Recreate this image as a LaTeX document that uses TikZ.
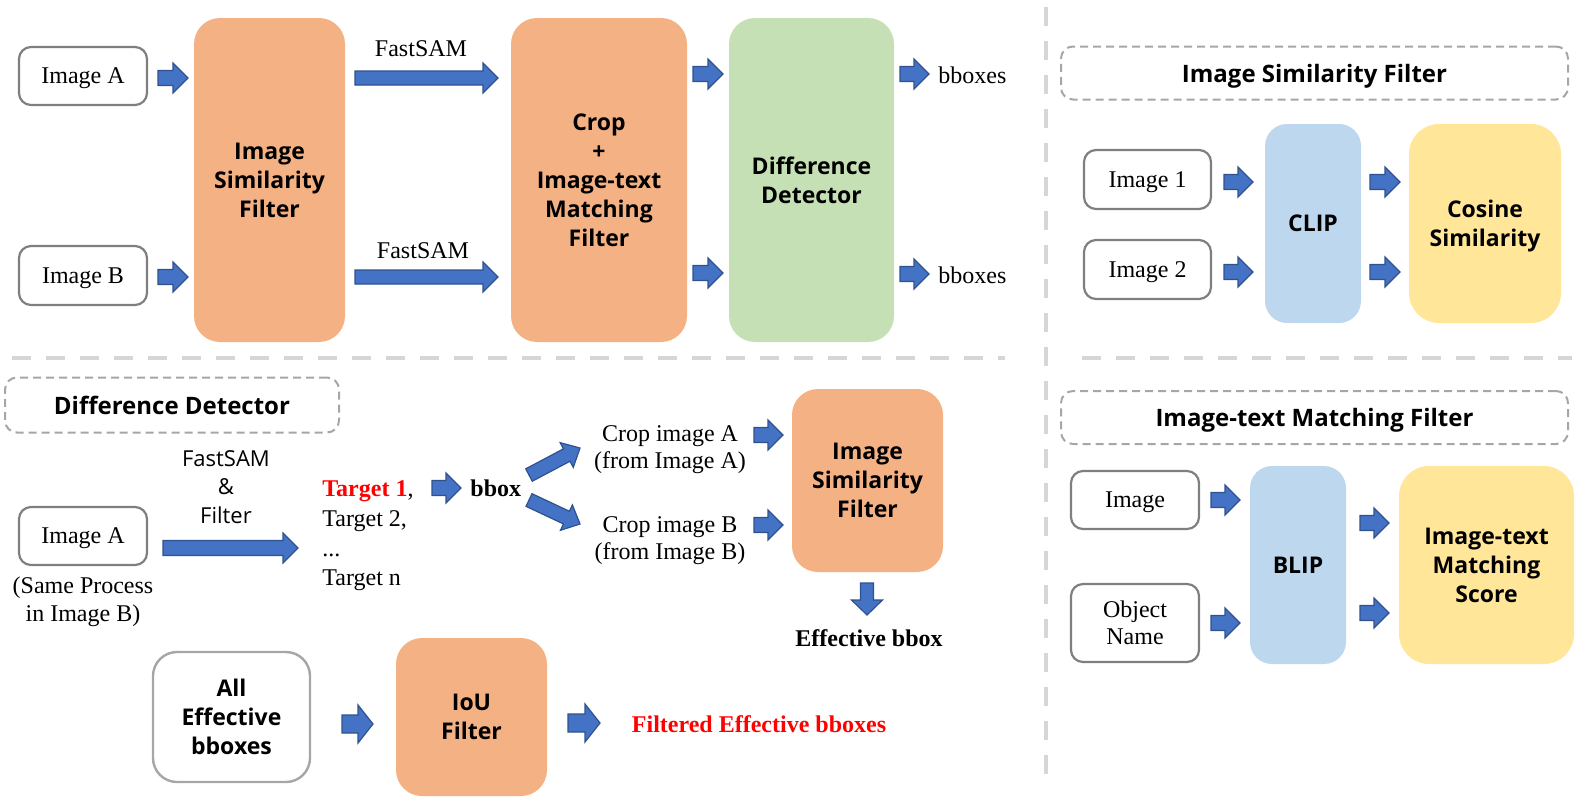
\documentclass[tikz,border=0pt]{standalone}
\usepackage{fontspec}
\setmainfont{Liberation Serif}
\newfontfamily\sansf{Open Sans}
\usetikzlibrary{calc}
\definecolor{orangeF}{HTML}{F4B183}
\definecolor{greenF}{HTML}{C5E0B4}
\definecolor{blueF}{HTML}{BDD7EE}
\definecolor{yellowF}{HTML}{FFE699}
\definecolor{arrowF}{HTML}{4472C4}
\definecolor{arrowD}{HTML}{2F528F}
\definecolor{boxD}{HTML}{7F7F7F}
\definecolor{dashG}{HTML}{A6A6A6}
\definecolor{divG}{HTML}{D6D6D6}
\definecolor{redT}{HTML}{FF0000}
\newcommand\barrow[5]{%
  \path[arrowshape] let \p1=(#1), \p2=(#2),
    \n1={atan2(\y2-\y1,\x2-\x1)}, \n2={veclen(\x2-\x1,\y2-\y1)} in
    ($(\p1)+(\n1+90:#3)$) -- ($(\p1)+(\n1:\n2-#5)+(\n1+90:#3)$) --
    ($(\p1)+(\n1:\n2-#5)+(\n1+90:#4)$) -- (\p2) --
    ($(\p1)+(\n1:\n2-#5)+(\n1-90:#4)$) -- ($(\p1)+(\n1:\n2-#5)+(\n1-90:#3)$) --
    ($(\p1)+(\n1-90:#3)$) -- cycle;}
\begin{document}
\begin{tikzpicture}[x=0.5pt,y=-0.5pt,
  sz/.style 2 args={minimum width=#1*0.5pt, minimum height=#2*0.5pt, inner sep=0pt},
  serif/.style={font=\fontsize{12}{13.5}\selectfont, align=center},
  sansb/.style={font=\sansf\bfseries\fontsize{11.5}{14.5}\selectfont, align=center},
  sansr/.style={font=\sansf\fontsize{11}{14.25}\selectfont, align=center},
  inbox/.style={draw=boxD, line width=1.1pt, rounded corners=6pt, fill=white, serif},
  oneline/.style={text depth=0pt},
  block/.style={rounded corners=13pt, sansb, text depth=0pt},
  dashbox/.style={draw=dashG, line width=1pt, dash pattern=on 4pt off 2.5pt, rounded corners=6pt,
    font=\sansf\bfseries\fontsize{12}{14.5}\selectfont, text depth=0pt},
  divider/.style={draw=divG, line width=2.25pt, dash pattern=on 9.5pt off 7.5pt},
  arrowshape/.style={fill=arrowF, draw=arrowD, line width=0.6pt, line join=miter},
  lbl/.style={inner sep=0pt, serif}
]
\useasboundingbox (0,0) rectangle (1577,799);

% dividers
\draw[divider] (1046,7) -- (1046,775);
\draw[divider] (12,358) -- (1005,358);
\draw[divider] (1082,358) -- (1572,358);

% ---------- top pipeline ----------
\node[inbox, oneline, sz={128}{58}] (imgA) at (83,76) {Image A};
\node[inbox, oneline, sz={128}{59}] (imgB) at (83,275.5) {Image B};
\node[block, fill=orangeF, sz={151}{324}] (isf1) at (269.5,180) {Image\\Similarity\\Filter};
\node[block, fill=orangeF, sz={176}{324}] (crop) at (599,180) {Crop\\+\\Image-text\\Matching\\Filter};
\node[block, fill=greenF, sz={165}{324}] (dd) at (811.5,180) {Difference\\Detector};
\node[lbl] (fs1) at (421,49) {FastSAM};
\node[lbl] (fs2) at (423,251) {FastSAM};
\node[lbl, anchor=west] (bb1) at (938,75) {bboxes};
\node[lbl, anchor=west] (bb2) at (938,275) {bboxes};

\coordinate (a1s) at (158,78);  \coordinate (a1e) at (188,78);
\coordinate (a2s) at (158,277); \coordinate (a2e) at (188,277);
\coordinate (a3s) at (355,78);  \coordinate (a3e) at (498,78);
\coordinate (a4s) at (355,277); \coordinate (a4e) at (498,277);
\coordinate (a5s) at (693,74);  \coordinate (a5e) at (723,74);
\coordinate (a6s) at (693,273); \coordinate (a6e) at (723,273);
\coordinate (a7s) at (900,74);  \coordinate (a7e) at (929,74);
\coordinate (a8s) at (900,274); \coordinate (a8e) at (929,274);
\barrow{a1s}{a1e}{3.75pt}{7.5pt}{7.5pt}
\barrow{a2s}{a2e}{3.75pt}{7.5pt}{7.5pt}
\barrow{a3s}{a3e}{3.5pt}{7.5pt}{7.5pt}
\barrow{a4s}{a4e}{3.5pt}{7.5pt}{7.5pt}
\barrow{a5s}{a5e}{3.75pt}{7.5pt}{7.5pt}
\barrow{a6s}{a6e}{3.75pt}{7.5pt}{7.5pt}
\barrow{a7s}{a7e}{3.75pt}{7.5pt}{7.5pt}
\barrow{a8s}{a8e}{3.75pt}{7.5pt}{7.5pt}

% ---------- right top: Image Similarity Filter ----------
\node[dashbox, sz={507}{53}] (tisf) at (1314.5,73) {Image Similarity Filter};
\node[inbox, oneline, sz={127}{59}] (im1) at (1147.5,179.5) {Image 1};
\node[inbox, oneline, sz={127}{59}] (im2) at (1147.5,269.5) {Image 2};
\node[block, fill=blueF, rounded corners=11pt, sz={96}{199}] (clip) at (1313,223.5) {CLIP};
\node[block, fill=yellowF, rounded corners=15pt, sz={152}{199}] (cos) at (1485,223.5) {Cosine\\Similarity};
\coordinate (b1s) at (1224,182); \coordinate (b1e) at (1253,182);
\coordinate (b2s) at (1224,272); \coordinate (b2e) at (1253,272);
\coordinate (b3s) at (1370,182); \coordinate (b3e) at (1400,182);
\coordinate (b4s) at (1370,272); \coordinate (b4e) at (1400,272);
\barrow{b1s}{b1e}{3.75pt}{7.5pt}{7.5pt}
\barrow{b2s}{b2e}{3.75pt}{7.5pt}{7.5pt}
\barrow{b3s}{b3e}{3.75pt}{7.5pt}{7.5pt}
\barrow{b4s}{b4e}{3.75pt}{7.5pt}{7.5pt}

% ---------- right bottom: Image-text Matching Filter ----------
\node[dashbox, sz={507}{53}] (titm) at (1314.5,417.5) {Image-text Matching Filter};
\node[inbox, oneline, sz={128}{58}] (im3) at (1135,500) {Image};
\node[inbox, sz={128}{78}] (obj) at (1135,623) {Object\\Name};
\node[block, fill=blueF, rounded corners=11pt, sz={96}{198}] (blip) at (1298,565) {BLIP};
\node[block, fill=yellowF, rounded corners=15pt, sz={175}{198}] (score) at (1486.5,565) {Image-text\\Matching\\Score};
\coordinate (c1s) at (1211,500); \coordinate (c1e) at (1240,500);
\coordinate (c2s) at (1211,623); \coordinate (c2e) at (1240,623);
\coordinate (c3s) at (1360,523); \coordinate (c3e) at (1389,523);
\coordinate (c4s) at (1360,613); \coordinate (c4e) at (1389,613);
\barrow{c1s}{c1e}{3.75pt}{7.5pt}{7.5pt}
\barrow{c2s}{c2e}{3.75pt}{7.5pt}{7.5pt}
\barrow{c3s}{c3e}{3.75pt}{7.5pt}{7.5pt}
\barrow{c4s}{c4e}{3.75pt}{7.5pt}{7.5pt}

% ---------- bottom left: Difference Detector ----------
\node[dashbox, sz={334}{55}] (tdd) at (172,405) {Difference Detector};
\node[sansr, inner sep=0pt] (fsf) at (226,487) {FastSAM\\\&\\Filter};
\node[inbox, oneline, sz={128}{58}] (imgA2) at (83,536) {Image A};
\node[lbl, font=\fontsize{12}{14}\selectfont] (same) at (83,602) {(Same Process\\in Image B)};
\node[lbl, anchor=base west] (t1) at (322,496) {\textcolor{redT}{\bfseries Target 1},};
\node[lbl, anchor=base west] (t2) at (322,526) {Target 2,};
\node[lbl, anchor=base west] (t3) at (322,556) {...};
\node[lbl, anchor=base west] (t4) at (322,585) {Target n};
\node[lbl, anchor=base west] (bbox) at (470,496) {\bfseries bbox};
\node[lbl] (cropA) at (670,450) {Crop image A\\(from Image A)};
\node[lbl] (cropB) at (670,541) {Crop image B\\(from Image B)};
\node[block, fill=orangeF, sz={151}{183}] (isf2) at (867.5,480.5) {Image\\Similarity\\Filter};
\node[lbl] (eff) at (869,638) {\bfseries Effective bbox};
\node[draw=dashG, line width=1.2pt, rounded corners=12pt, sansb, sz={157}{130}] (alleff) at (231.5,717) {All\\Effective\\bboxes};
\node[block, fill=orangeF, sz={151}{158}] (iou) at (471.5,717) {IoU\\Filter};
\node[lbl, text=redT] (filt) at (759,724) {\bfseries Filtered Effective bboxes};

\coordinate (d1s) at (163,548); \coordinate (d1e) at (298,548);
\coordinate (d2s) at (432,488); \coordinate (d2e) at (461,488);
\coordinate (d3s) at (529,475); \coordinate (d3e) at (580,448);
\coordinate (d4s) at (529,500); \coordinate (d4e) at (580,524);
\coordinate (d5s) at (754,435); \coordinate (d5e) at (783,435);
\coordinate (d6s) at (754,525); \coordinate (d6e) at (783,525);
\coordinate (d7s) at (867,583); \coordinate (d7e) at (867,615);
\coordinate (d8s) at (342,724); \coordinate (d8e) at (373,724);
\coordinate (d9s) at (568,723); \coordinate (d9e) at (600,723);
\barrow{d1s}{d1e}{3.75pt}{7.5pt}{7.5pt}
\barrow{d2s}{d2e}{3.75pt}{7.5pt}{7.5pt}
\barrow{d3s}{d3e}{3.5pt}{7pt}{7.5pt}
\barrow{d4s}{d4e}{3.5pt}{7pt}{7.5pt}
\barrow{d5s}{d5e}{3.75pt}{7.5pt}{7.5pt}
\barrow{d6s}{d6e}{3.75pt}{7.5pt}{7.5pt}
\barrow{d7s}{d7e}{3.25pt}{7.75pt}{7.5pt}
\barrow{d8s}{d8e}{4.5pt}{9.5pt}{7.5pt}
\barrow{d9s}{d9e}{4.5pt}{9.5pt}{7.5pt}
\end{tikzpicture}
\end{document}
